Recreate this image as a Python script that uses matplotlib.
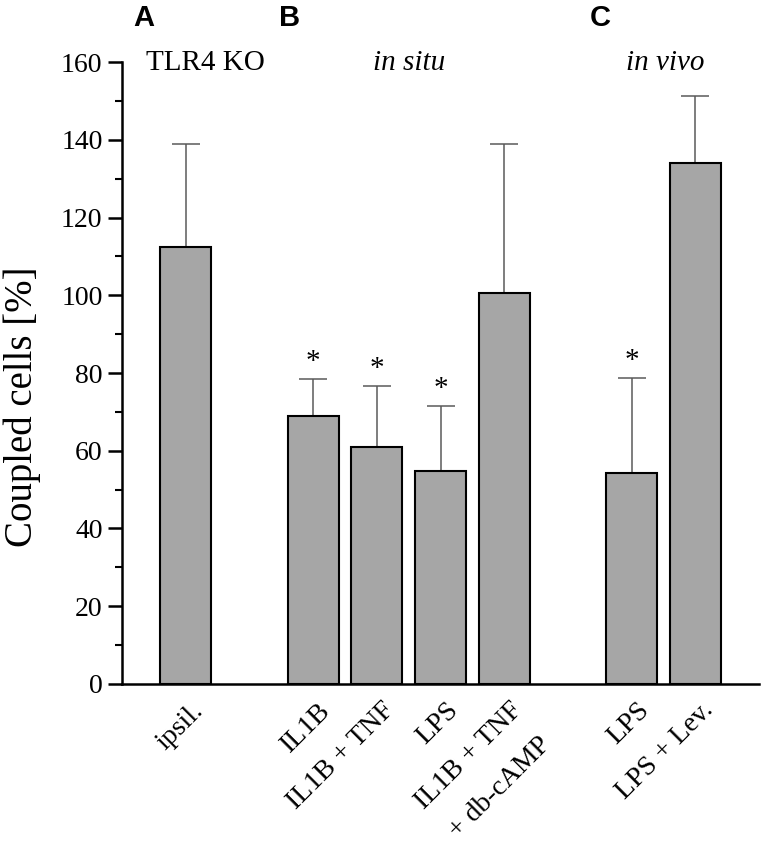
import matplotlib
matplotlib.use('Agg')
import matplotlib.pyplot as plt
from matplotlib.ticker import MultipleLocator
from matplotlib.transforms import ScaledTranslation

plt.rcParams['font.family'] = 'Liberation Serif'

# data
positions = [0, 2, 3, 4, 5, 7, 8]
labels = ['ipsil.', 'IL1B', 'IL1B + TNF', 'LPS', 'IL1B + TNF\n+ db-cAMP', 'LPS', 'LPS + Lev.']
means = [112.5, 69.0, 61.0, 54.7, 100.5, 54.4, 134.0]
upper = [139.0, 78.5, 76.6, 71.4, 139.0, 78.6, 151.3]
signif = [False, True, True, True, False, True, False]

errs = [u - m for u, m in zip(upper, means)]

fig = plt.figure(figsize=(7.64, 8.46), dpi=100)
ax = fig.add_axes([0.1597, 0.1915, 0.8338, 0.7352])

ax.bar(positions, means, width=0.8, color='#a6a6a6', edgecolor='black', linewidth=1.5, zorder=2)
ax.errorbar(positions, means, yerr=[[0] * len(errs), errs], fmt='none',
            ecolor='#5a5a5a', elinewidth=1.1, capsize=10, capthick=1.1, zorder=1)

for p, u, s in zip(positions, upper, signif):
    if s:
        ax.annotate('*', (p, u), xytext=(0, 3), textcoords='offset points',
                    ha='center', va='bottom', fontsize=21)

ax.set_xlim(-1, 9)
ax.set_ylim(0, 160)
ax.spines['top'].set_visible(False)
ax.spines['right'].set_visible(False)
ax.spines['left'].set_linewidth(1.8)
ax.spines['bottom'].set_linewidth(1.8)

ax.yaxis.set_major_locator(MultipleLocator(20))
ax.yaxis.set_minor_locator(MultipleLocator(10))
ax.tick_params(axis='y', which='major', direction='out', length=10, width=1.8, labelsize=20, pad=4)
ax.tick_params(axis='y', which='minor', direction='out', length=5, width=1.5)

ax.set_xticks(positions)
ax.set_xticklabels(labels, rotation=45, rotation_mode='anchor', ha='right', va='top',
                   multialignment='center', fontsize=20)
ax.tick_params(axis='x', length=0, pad=10)
shift = ScaledTranslation(0.05, 0, fig.dpi_scale_trans)
for lab in ax.get_xticklabels():
    lab.set_linespacing(2.0)
    lab.set_transform(lab.get_transform() + shift)

fig.text(22 / 764, 1 - 407 / 846, 'Coupled cells [%]', rotation=90,
         ha='center', va='center', fontsize=28)

# panel letters and group titles
fig.text(144 / 764, 1 - 18 / 846, 'A', family='Liberation Sans', weight='bold',
         fontsize=21, ha='center', va='center')
fig.text(290 / 764, 1 - 18 / 846, 'B', family='Liberation Sans', weight='bold',
         fontsize=21, ha='center', va='center')
fig.text(600 / 764, 1 - 18 / 846, 'C', family='Liberation Sans', weight='bold',
         fontsize=21, ha='center', va='center')

fig.text(205 / 764, 1 - 63 / 846, 'TLR4 KO', fontsize=21, ha='center', va='center')
fig.text(409 / 764, 1 - 63 / 846, 'in situ', fontsize=21, style='italic', ha='center', va='center')
fig.text(665 / 764, 1 - 63 / 846, 'in vivo', fontsize=21, style='italic', ha='center', va='center')

fig.savefig('out.png', dpi=100)
